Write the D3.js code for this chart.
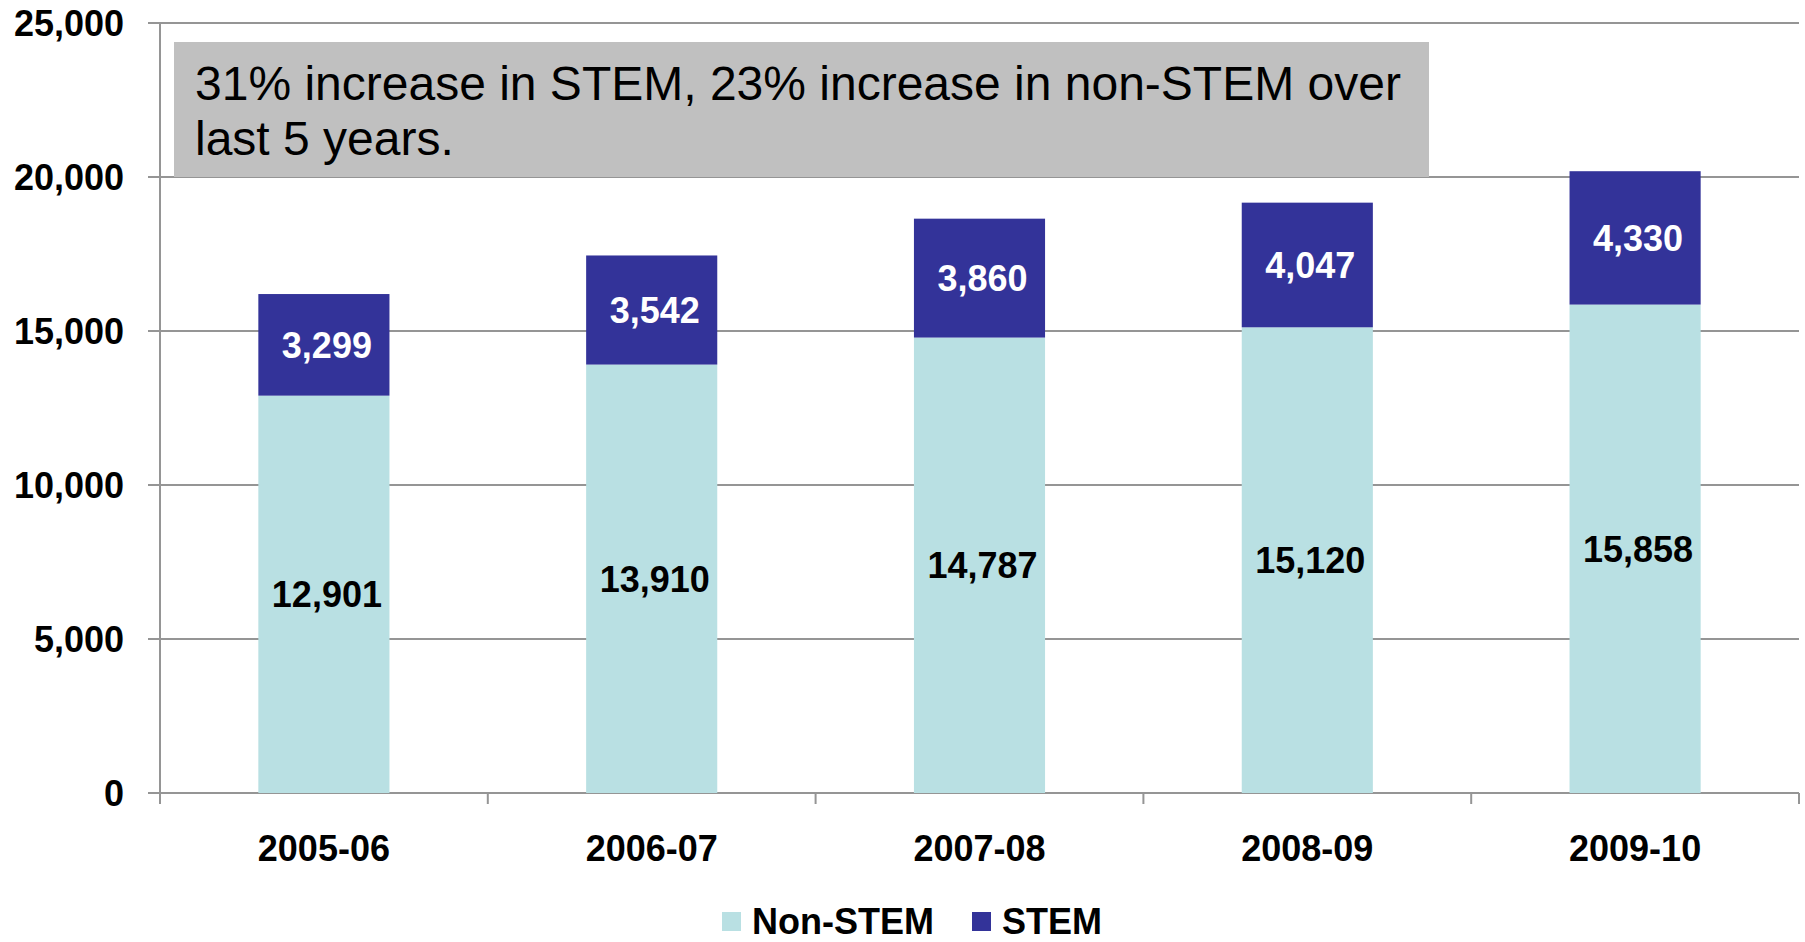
<!DOCTYPE html>
<html lang="en">
<head>
<meta charset="UTF-8">
<title>STEM vs Non-STEM</title>
<script src="https://d3js.org/d3.v7.min.js"></script>
<style>
  html, body { margin: 0; padding: 0; background: #fff; }
  svg { display: block; font-family: "Liberation Sans", Arial, sans-serif; }
</style>
</head>
<body>
<div id="chart"></div>
<script>
    const width = 1805;
    const height = 942;

    // data
    const years = ["2005-06", "2006-07", "2007-08", "2008-09", "2009-10"];
    const nonStem = [12901, 13910, 14787, 15120, 15858];
    const stem = [3299, 3542, 3860, 4047, 4330];
    const yTicks = [0, 5000, 10000, 15000, 20000, 25000];
    const seriesNames = ["Non-STEM", "STEM"];
    const noteLines = ["31% increase in STEM, 23% increase in non-STEM over", "last 5 years."];

    const colors = { "Non-STEM": "#b9e0e3", "STEM": "#333399" };
    const gridColor = "#959595";

    const plot = { left: 160, right: 1799, top: 23, bottom: 793 };

    const svg = d3.select("#chart")
        .append("svg")
        .attr("width", width)
        .attr("height", height);

    const x = d3.scaleBand()
        .domain(years)
        .range([plot.left, plot.right])
        .paddingInner(0.6)
        .paddingOuter(0.3);

    const y = d3.scaleLinear()
        .domain([0, 25000])
        .range([plot.bottom, plot.top]);

    const rows = years.map((yr, i) => ({ year: yr, "Non-STEM": nonStem[i], "STEM": stem[i] }));
    const stacked = d3.stack().keys(seriesNames)(rows);

    // gridlines + y ticks (tick part sticks out left of the axis)
    svg.append("g")
        .selectAll("line")
        .data(yTicks)
        .join("line")
        .attr("x1", plot.left - 12)
        .attr("x2", plot.right)
        .attr("y1", d => y(d))
        .attr("y2", d => y(d))
        .attr("stroke", gridColor)
        .attr("stroke-width", 2);

    // annotation box sits on top of the grid
    svg.append("rect")
        .attr("x", 174)
        .attr("y", 42)
        .attr("width", 1255)
        .attr("height", y(20000) - 42)
        .attr("fill", "#c0c0c0");

    svg.append("g")
        .selectAll("text")
        .data(noteLines)
        .join("text")
        .attr("x", 195)
        .attr("y", (d, i) => 100 + i * 55)
        .attr("font-size", 48)
        .attr("fill", "#000")
        .text(d => d);

    // bars
    const layers = svg.append("g")
        .selectAll("g")
        .data(stacked)
        .join("g")
        .attr("fill", d => colors[d.key]);

    layers.selectAll("rect")
        .data(d => d)
        .join("rect")
        .attr("x", d => x(d.data.year))
        .attr("width", x.bandwidth())
        .attr("y", d => y(d[1]))
        .attr("height", d => y(d[0]) - y(d[1]));

    // value labels
    layers.each(function(layer) {
        d3.select(this).selectAll("text")
            .data(layer)
            .join("text")
            .attr("x", d => x(d.data.year) + x.bandwidth() / 2 + 3)
            .attr("y", d => (y(d[0]) + y(d[1])) / 2)
            .attr("dy", "0.36em")
            .attr("text-anchor", "middle")
            .attr("font-size", 36)
            .attr("font-weight", "bold")
            .attr("fill", layer.key === "STEM" ? "#fff" : "#000")
            .text(d => d3.format(",")(d.data[layer.key]));
    });

    // axes lines
    svg.append("line")
        .attr("x1", plot.left).attr("x2", plot.left)
        .attr("y1", plot.top).attr("y2", plot.bottom + 11)
        .attr("stroke", gridColor).attr("stroke-width", 2);

    const xTickPos = years.map(d => x(d) - x.step() * x.paddingInner() / 2).concat([plot.right]);
    svg.append("g")
        .selectAll("line")
        .data(xTickPos)
        .join("line")
        .attr("x1", d => d).attr("x2", d => d)
        .attr("y1", plot.bottom).attr("y2", plot.bottom + 11)
        .attr("stroke", gridColor).attr("stroke-width", 2);

    // y tick labels
    svg.append("g")
        .selectAll("text")
        .data(yTicks)
        .join("text")
        .attr("x", plot.left - 36)
        .attr("y", d => y(d))
        .attr("dy", "0.36em")
        .attr("text-anchor", "end")
        .attr("font-size", 36)
        .attr("font-weight", "bold")
        .text(d => d3.format(",")(d));

    // x category labels
    svg.append("g")
        .selectAll("text")
        .data(years)
        .join("text")
        .attr("x", d => x(d) + x.bandwidth() / 2)
        .attr("y", 861)
        .attr("text-anchor", "middle")
        .attr("font-size", 36)
        .attr("font-weight", "bold")
        .text(d => d);

    // legend (nudged up a little so the text is not clipped at the bottom edge)
    const legendX = [722, 972];
    const legend = svg.append("g")
        .selectAll("g")
        .data(seriesNames)
        .join("g")
        .attr("transform", (d, i) => `translate(${legendX[i]}, 912)`);

    legend.append("rect")
        .attr("width", 19)
        .attr("height", 19)
        .attr("fill", d => colors[d]);

    legend.append("text")
        .attr("x", 30)
        .attr("y", 22)
        .attr("font-size", 36)
        .attr("font-weight", "bold")
        .text(d => d);
</script>
</body>
</html>
